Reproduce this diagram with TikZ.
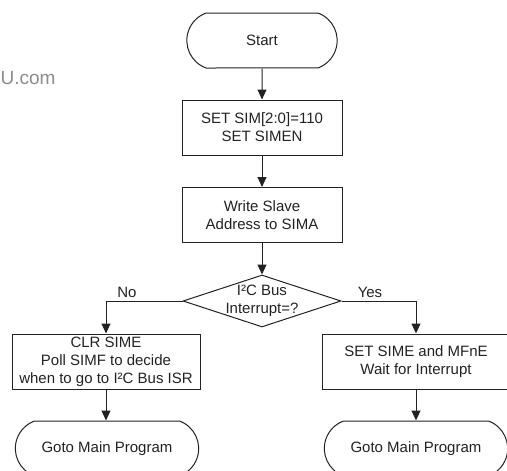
\documentclass[tikz,border=0pt]{standalone}
\usepackage{fontspec}
\setmainfont{Liberation Sans}
\usetikzlibrary{arrows.meta,shapes.geometric,shapes.misc}
\definecolor{ink}{HTML}{222222}
\definecolor{markgray}{HTML}{8C8C8C}

\begin{document}
\begin{tikzpicture}[
    x=1pt, y=-1pt,
    font=\fontsize{15}{18}\selectfont,
    >={Triangle[length=10pt, width=9pt]},
    line/.style={draw=ink, line width=1pt},
    arr/.style={line, ->},
    proc/.style={line, rectangle, minimum height=55pt, align=center, text=ink, inner sep=2pt},
    term/.style={line, rounded rectangle, rounded rectangle arc length=140, minimum height=55pt, text=ink},
    decide/.style={line, diamond, aspect=3, inner sep=-6pt, minimum width=158pt, minimum height=52pt, align=center, text=ink},
    tag/.style={text=ink},
]
    \useasboundingbox (0,0) rectangle (507,471);
    \clip (0,0) rectangle (507,471);

    % =====================================================================
    % MAIN COLUMN
    % =====================================================================
    \node[anchor=east, text=markgray, font=\fontsize{19}{22}\selectfont] (mark) at (59,78) {U.com};

    \node[term, minimum width=157pt] (start) at (262,40.5) {Start};
    \node[proc, minimum width=160pt] (setsim) at (262,127.5) {SET SIM[2:0]=110\\SET SIMEN};
    \node[proc, minimum width=160pt] (wraddr) at (262,215) {Write Slave\\Address to SIMA};
    \node[decide] (irq) at (262,301) {I²C Bus\\Interrupt=?};

    \draw[arr] (start) -- (setsim);
    \draw[arr] (setsim) -- (wraddr);
    \draw[arr] (wraddr) -- (irq);

    % =====================================================================
    % NO BRANCH (POLLING)
    % =====================================================================
    \node[proc, minimum width=188pt] (poll) at (106,361.5) {CLR SIME\\Poll SIMF to decide\\when to go to I²C Bus ISR};
    \node[term, minimum width=190pt] (gotoL) at (107,448.5) {Goto Main Program};

    \draw[arr] (irq.west) -| (poll.north);
    \draw[arr] (poll) -- (gotoL.north -| poll.south);
    \node[tag] (no) at (127,292) {No};

    % =====================================================================
    % YES BRANCH (INTERRUPT)
    % =====================================================================
    \node[proc, minimum width=188pt] (waitint) at (416,361.5) {SET SIME and MFnE\\Wait for Interrupt};
    \node[term, minimum width=190pt] (gotoR) at (416,448.5) {Goto Main Program};

    \draw[arr] (irq.east) -| (waitint.north);
    \draw[arr] (waitint) -- (gotoR);
    \node[tag] (yes) at (370,292) {Yes};

\end{tikzpicture}
\end{document}
